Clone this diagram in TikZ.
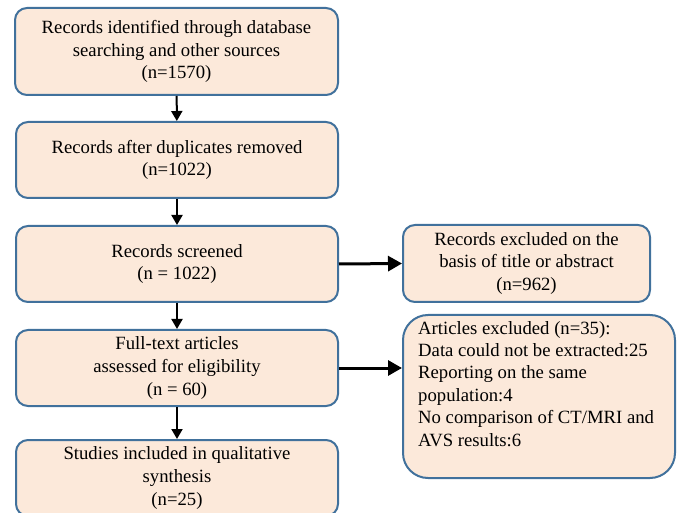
\documentclass[tikz,border=0pt]{standalone}
\usepackage{fontspec}
\setmainfont{LiberationSerif}[Extension=.ttf, UprightFont=*-Regular, BoldFont=*-Bold]
\usepackage{xcolor}
\usetikzlibrary{arrows.meta}

\definecolor{boxfill}{HTML}{FCE9DA}
\definecolor{boxline}{HTML}{41719C}

\begin{document}
\begin{tikzpicture}[x=1pt, y=-1pt,
    flowbox/.style={draw=boxline, fill=boxfill, line width=2pt, rounded corners=12pt,
        align=center, inner sep=0pt, font=\fontsize{18.7}{22.8}\selectfont},
    downarrow/.style={line width=2pt, -{Triangle[length=10pt, width=11pt]}},
    sidearrow/.style={line width=3pt, -{Triangle[length=14pt, width=15pt]}}]

    \useasboundingbox (0, 0) rectangle (678, 513);

    \node[flowbox, minimum width=323, minimum height=87] (ident) at (176.5, 51.5)
        {Records identified through database\\searching and other sources\\(n=1570)};
    \node[flowbox, minimum width=322, minimum height=76] (dupl) at (177, 160)
        {Records after duplicates removed\\(n=1022)};
    \node[flowbox, minimum width=322, minimum height=76] (screen) at (177, 264)
        {Records screened\\(n = 1022)};
    \node[flowbox, minimum width=322, minimum height=76] (full) at (177, 368)
        {Full-text articles\\assessed for eligibility\\(n = 60)};
    \node[flowbox, minimum width=322, minimum height=76] (incl) at (177, 478)
        {Studies included in qualitative\\synthesis\\(n=25)};

    \node[flowbox, minimum width=247, minimum height=77] (excl) at (526.5, 263.5)
        {Records excluded on the\\basis of title or abstract\\(n=962)};
    \node[flowbox, rounded corners=25pt, minimum width=272, minimum height=163] (artexcl) at (539, 396.5) {};
    \node[anchor=north west, align=left, inner sep=0pt, font=\fontsize{18.7}{22.4}\selectfont] (artexcltext) at (418, 321)
        {Articles excluded (n=35):\\Data could not be extracted:25\\Reporting on the same\\population:4\\No comparison of CT/MRI and\\AVS results:6};

    \draw[downarrow] (ident) -- (dupl);
    \draw[downarrow] (dupl) -- (screen);
    \draw[downarrow] (screen) -- (full);
    \draw[downarrow] (full) -- (incl);

    \draw[sidearrow] (screen.east) -- (excl.west);
    \draw[sidearrow] (full.east) -- (full.east -| artexcl.west);

\end{tikzpicture}
\end{document}
